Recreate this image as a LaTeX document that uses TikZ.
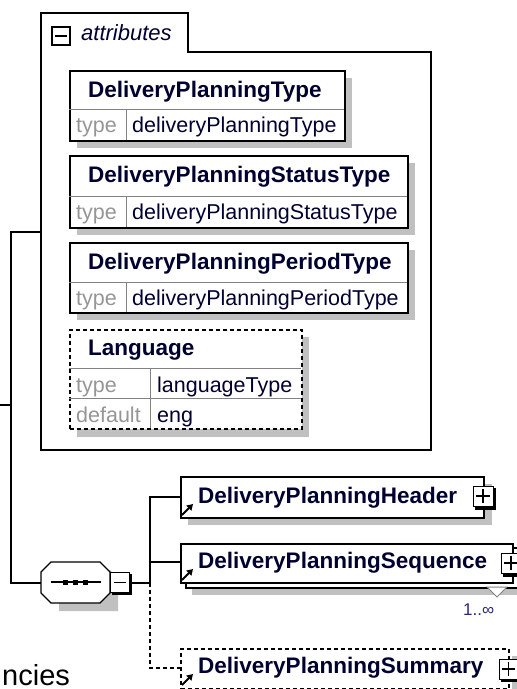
\documentclass[tikz,border=0pt]{standalone}
\usepackage{fontspec}
\setmainfont{Liberation Sans}
\usetikzlibrary{arrows.meta}
\definecolor{navy}{RGB}{0,0,48}
\definecolor{shade}{RGB}{192,192,192}
\definecolor{lbl}{RGB}{150,150,150}
\definecolor{occ}{RGB}{40,40,120}
\definecolor{divc}{RGB}{130,130,130}
\begin{document}
\begin{tikzpicture}[x=1pt,y=-1pt,line join=miter,
  ebox/.style={draw=black,line width=1.6pt,fill=white,anchor=north west,inner sep=0pt},
  dbox/.style={ebox,dash pattern=on 4pt off 3pt},
  shd/.style={fill=shade,draw=none},
  nm/.style={font=\bfseries\fontsize{22.5}{22.5}\selectfont,text=navy,anchor=base west,inner sep=0pt},
  lab/.style={font=\fontsize{21.5}{21.5}\selectfont,text=lbl,anchor=base west,inner sep=0pt},
  val/.style={font=\fontsize{21.5}{21.5}\selectfont,text=navy,anchor=base west,inner sep=0pt},
  divl/.style={draw=divc,line width=1pt},
  conn/.style={line width=1.4pt},
  dconn/.style={conn,dash pattern=on 4pt off 3pt},
  ico/.style={draw=black,line width=1.2pt,fill=white},
  refarrow/.style={line width=1.8pt,-{Triangle[length=6pt,width=7pt]}}
]
\clip (0,0) rectangle (517,689);
\useasboundingbox (0,0) rectangle (517,689);

% ---------- attributes container ----------
\draw[line width=1.6pt,fill=white] (41,13) -- (188,13) -- (188,52) -- (431,52) -- (431,450) -- (41,450) -- cycle;
\coordinate (attrL) at (41,232);
\draw[line width=2pt,fill=white] (52,27) rectangle (70,45);
\draw[line width=1.4pt] (55,36) -- (67,36);
\node[font=\itshape\fontsize{22}{22}\selectfont,text=navy,anchor=base west,inner sep=0pt] (attrt) at (81,40) {attributes};

% box 1
\fill[shd] (77,78) rectangle (352,148);
\node[ebox,minimum width=275pt,minimum height=70pt] (b1) at (69,70) {};
\draw[divl] (69,109) -- (344,109);
\draw[divl] (126,109) -- (126,140);
\node[nm] (b1n) at (88,97) {DeliveryPlanningType};
\node[lab] (b1l) at (76,132) {type};
\node[val] (b1v) at (132,132) {deliveryPlanningType};

% box 2
\fill[shd] (77,163) rectangle (415,235);
\node[ebox,minimum width=338pt,minimum height=72pt] (b2) at (69,155) {};
\draw[divl] (69,196) -- (407,196);
\draw[divl] (126,196) -- (126,227);
\node[nm] (b2n) at (88,182) {DeliveryPlanningStatusType};
\node[lab] (b2l) at (76,219) {type};
\node[val] (b2v) at (132,219) {deliveryPlanningStatusType};

% box 3
\fill[shd] (77,250) rectangle (415,320);
\node[ebox,minimum width=338pt,minimum height=70pt] (b3) at (69,242) {};
\draw[divl] (69,282) -- (407,282);
\draw[divl] (126,282) -- (126,312);
\node[nm] (b3n) at (88,269) {DeliveryPlanningPeriodType};
\node[lab] (b3l) at (76,305) {type};
\node[val] (b3v) at (132,305) {deliveryPlanningPeriodType};

% box 4 (Language)
\fill[shd] (77,337) rectangle (309,437);
\node[dbox,minimum width=232pt,minimum height=99pt] (b4) at (69,329) {};
\draw[divl] (69,368) -- (301,368);
\draw[divl] (69,398) -- (301,398);
\draw[divl] (150,368) -- (150,428);
\node[nm] (b4n) at (88,355) {Language};
\node[lab] (b4l) at (76,392) {type};
\node[val] (b4v) at (157,392) {languageType};
\node[lab] (b4d) at (76,422) {default};
\node[val] (b4e) at (157,422) {eng};

% ---------- sequence compositor ----------
\fill[shd] (59,570) -- (110,570) -- (118,578) -- (118,611) -- (59,611) -- cycle;
\node[minimum width=69pt,minimum height=41pt,inner sep=0pt] (seq) at (75.5,582.5) {};
\draw[line width=1.4pt,fill=white] (51,562) -- (100,562) -- (110,572) -- (110,593) -- (100,603) -- (51,603) -- (41,593) -- (41,572) -- cycle;
\draw[line width=1.4pt] (51,582) -- (101,582);
\foreach \xx in {65,75,85} \fill (\xx-2.5,579.5) rectangle (\xx+2.5,584.5);
\fill (112,574) rectangle (132,595);
\node[ico,minimum width=19pt,minimum height=20pt,anchor=north west,inner sep=0pt] (seqm) at (110,572) {};
\draw[line width=1.2pt] (114,582.5) -- (126,582.5);

% ---------- left connectors ----------
\coordinate (lv1) at (11,232);
\coordinate (lv2) at (11,583);
\coordinate (lin) at (0,405);
\coordinate (lmid) at (11,405);
\draw[conn] (attrL) -- (lv1) -- (lv2) -- (seq.west |- lv2);
\draw[conn] (lin) -- (lmid);

% ---------- elements ----------
% header
\fill[shd] (188,484) rectangle (492,525);
\node[ebox,minimum width=303pt,minimum height=41pt] (hdr) at (180,476) {};
\node[nm] (hdrn) at (198,503) {DeliveryPlanningHeader};
\draw[refarrow] (182,515) -- (193,504);
\fill (475,488) rectangle (496,510);
\node[ico,minimum width=20pt,minimum height=20pt,anchor=north west,inner sep=0pt] (hdrp) at (473,486) {};
\draw[line width=1.2pt] (476,496) -- (490,496) (483,489) -- (483,503);

% sequence (multiple)
\fill[shd] (192,587) rectangle (525,595);
\node[ebox,minimum width=332pt,minimum height=40pt] (sqb) at (185,547) {};
\node[ebox,minimum width=332pt,minimum height=39pt] (sq) at (180,543) {};
\node[nm] (sqn) at (198,568) {DeliveryPlanningSequence};
\draw[refarrow] (182,580) -- (193,569);
\fill (503,555) rectangle (524,577);
\node[ico,minimum width=20pt,minimum height=20pt,anchor=north west,inner sep=0pt] (sqp) at (501,553) {};
\draw[line width=1.2pt] (504,563) -- (518,563) (511,556) -- (511,570);
\draw[line width=1pt,draw=divc,fill=white] (487,587) -- (507,587) -- (497,597) -- cycle;
\node[font=\fontsize{17}{17}\selectfont,text=occ,anchor=base west,inner sep=0pt] (occ) at (463,615) {1..∞};

% summary (optional)
\fill[shd] (512,656) rectangle (525,695);
\node[dbox,minimum width=328pt,minimum height=40pt] (sm) at (180,648) {};
\node[nm] (smn) at (198,673) {DeliveryPlanningSummary};
\draw[refarrow] (182,685) -- (193,674);
\fill (501,661) rectangle (520,682);
\node[ico,minimum width=19pt,minimum height=20pt,anchor=north west,inner sep=0pt] (smp) at (499,659) {};
\draw[line width=1.2pt] (502,669) -- (515,669) (508.5,662) -- (508.5,676);

% ---------- right connectors ----------
\coordinate (j) at (150,583);
\coordinate (jh) at (150,497);
\coordinate (js) at (150,668);
\draw[conn] (seqm.east |- j) -- (j);
\draw[conn] (j) -- (jh) -- (hdr.west |- jh);
\draw[conn] (150,562) -- (sq.west |- 0,562);
\draw[dconn] (j) -- (js) -- (sm.west |- js);

% ---------- clipped caption ----------
\node[font=\fontsize{29}{29}\selectfont,anchor=base west,inner sep=0pt] (cap) at (2,685) {ncies};
\end{tikzpicture}
\end{document}
